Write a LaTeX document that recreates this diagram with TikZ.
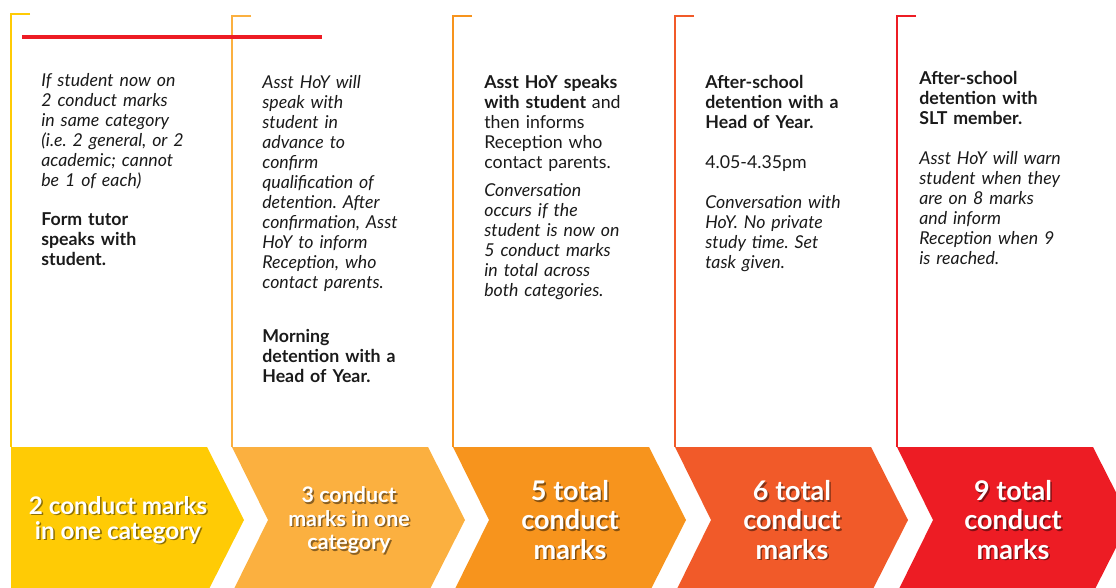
\documentclass[tikz,border=0pt]{standalone}
\usepackage{fontspec}
\setmainfont{Lato}
\usepackage{xcolor}
\definecolor{stepyellow}{HTML}{FFCB05}
\definecolor{steplight}{HTML}{FBB040}
\definecolor{steporange}{HTML}{F7941D}
\definecolor{stepdeep}{HTML}{F15A29}
\definecolor{stepred}{HTML}{ED1C24}
\definecolor{notetext}{HTML}{1A1A1A}
\frenchspacing

% white label on a chevron, with a soft dark copy behind it
\newcommand{\steptag}[5]{%
  \node[tagshade, font=\bfseries\fontsize{#3}{#4}\selectfont] at (#2+1.6,521.6) {#5};
  \node[tag, font=\bfseries\fontsize{#3}{#4}\selectfont] (#1) at (#2,520) {#5};}

\begin{document}
\begin{tikzpicture}[x=0.02cm, y=-0.02cm,
    note/.style={anchor=base west, inner sep=0pt, text width=4cm, align=left,
                 text=notetext, font=\fontsize{10.1}{11.34}\selectfont},
    rail/.style={line width=0.8pt},
    tag/.style={align=center, inner sep=0pt, text=white},
    tagshade/.style={tag, text=black, text opacity=0.45}]
  \useasboundingbox (0,0) rectangle (1116,588);
  \clip (0,0) rectangle (1116,588);

  % brackets and chevrons, one per step
  \foreach \i/\lx/\top/\col in {1/11/14/stepyellow, 2/232/16/steplight,
      3/453/16/steporange, 4/675/16/stepdeep, 5/897/16/stepred} {
    \draw[rail, \col] (\lx+19,\top) -- (\lx,\top) -- (\lx,447);
    \ifnum\i=1
      \fill[\col] (\lx,447) -- (\lx+196,447) -- (\lx+233,520)
        -- (\lx+196,593) -- (\lx,593) -- cycle;
    \else
      \fill[\col] (\lx,447) -- (\lx+196,447) -- (\lx+233,520)
        -- (\lx+196,593) -- (\lx,593) -- (\lx+36,520) -- cycle;
    \fi
  }
  \draw[stepred, line width=2pt] (22,37) -- (322,37);

  \steptag{tag1}{118}{13.8}{14.2}{2 conduct marks\\ in one category}
  \steptag{tag2}{349}{12.2}{13.3}{3 conduct\\ marks in one\\ category}
  \steptag{tag3}{570}{15.4}{16.7}{5 total\\ conduct\\ marks}
  \steptag{tag4}{792}{15.4}{16.7}{6 total\\ conduct\\ marks}
  \steptag{tag5}{1013}{15.4}{16.7}{9 total\\ conduct\\ marks}

  \node[note] (col1) at (41,87)
    {\itshape If student now on\\ 2 conduct marks\\ in same category\\
     (i.e. 2 general, or 2\\ academic; cannot\\ be 1 of each)\\[10.8pt]
     \upshape\bfseries Form tutor\\ speaks with\\ student.};
  \node[note] (col2) at (262,89)
    {\itshape Asst HoY will\\ speak with\\ student in\\ advance to\\ confirm\\
     qualification of\\ detention. After\\ confirmation, Asst\\ HoY to inform\\
     Reception, who\\ contact parents.\\[19.8pt]
     \upshape\bfseries Morning\\ detention with a\\ Head of Year.};
  \node[note] (col3) at (484,89)
    {\textbf{Asst HoY speaks}\\ \textbf{with student} and\\ then informs\\
     Reception who\\ contact parents.\\[4.5pt]
     \itshape Conversation\\ occurs if the\\ student is now on\\ 5 conduct marks\\
     in total across\\ both categories.};
  \node[note] (col4) at (705,89)
    {\bfseries After-school\\ detention with a\\ Head of Year.\\[11.3pt]
     \mdseries 4.05-4.35pm\\[11.3pt]
     \itshape Conversation with\\ HoY. No private\\ study time. Set\\ task given.};
  \node[note] (col5) at (919,85)
    {\bfseries After-school\\ detention with\\ SLT member.\\[11.3pt]
     \mdseries\itshape Asst HoY will warn\\ student when they\\ are on 8 marks\\
     and inform\\ Reception when 9\\ is reached.};
\end{tikzpicture}
\end{document}
